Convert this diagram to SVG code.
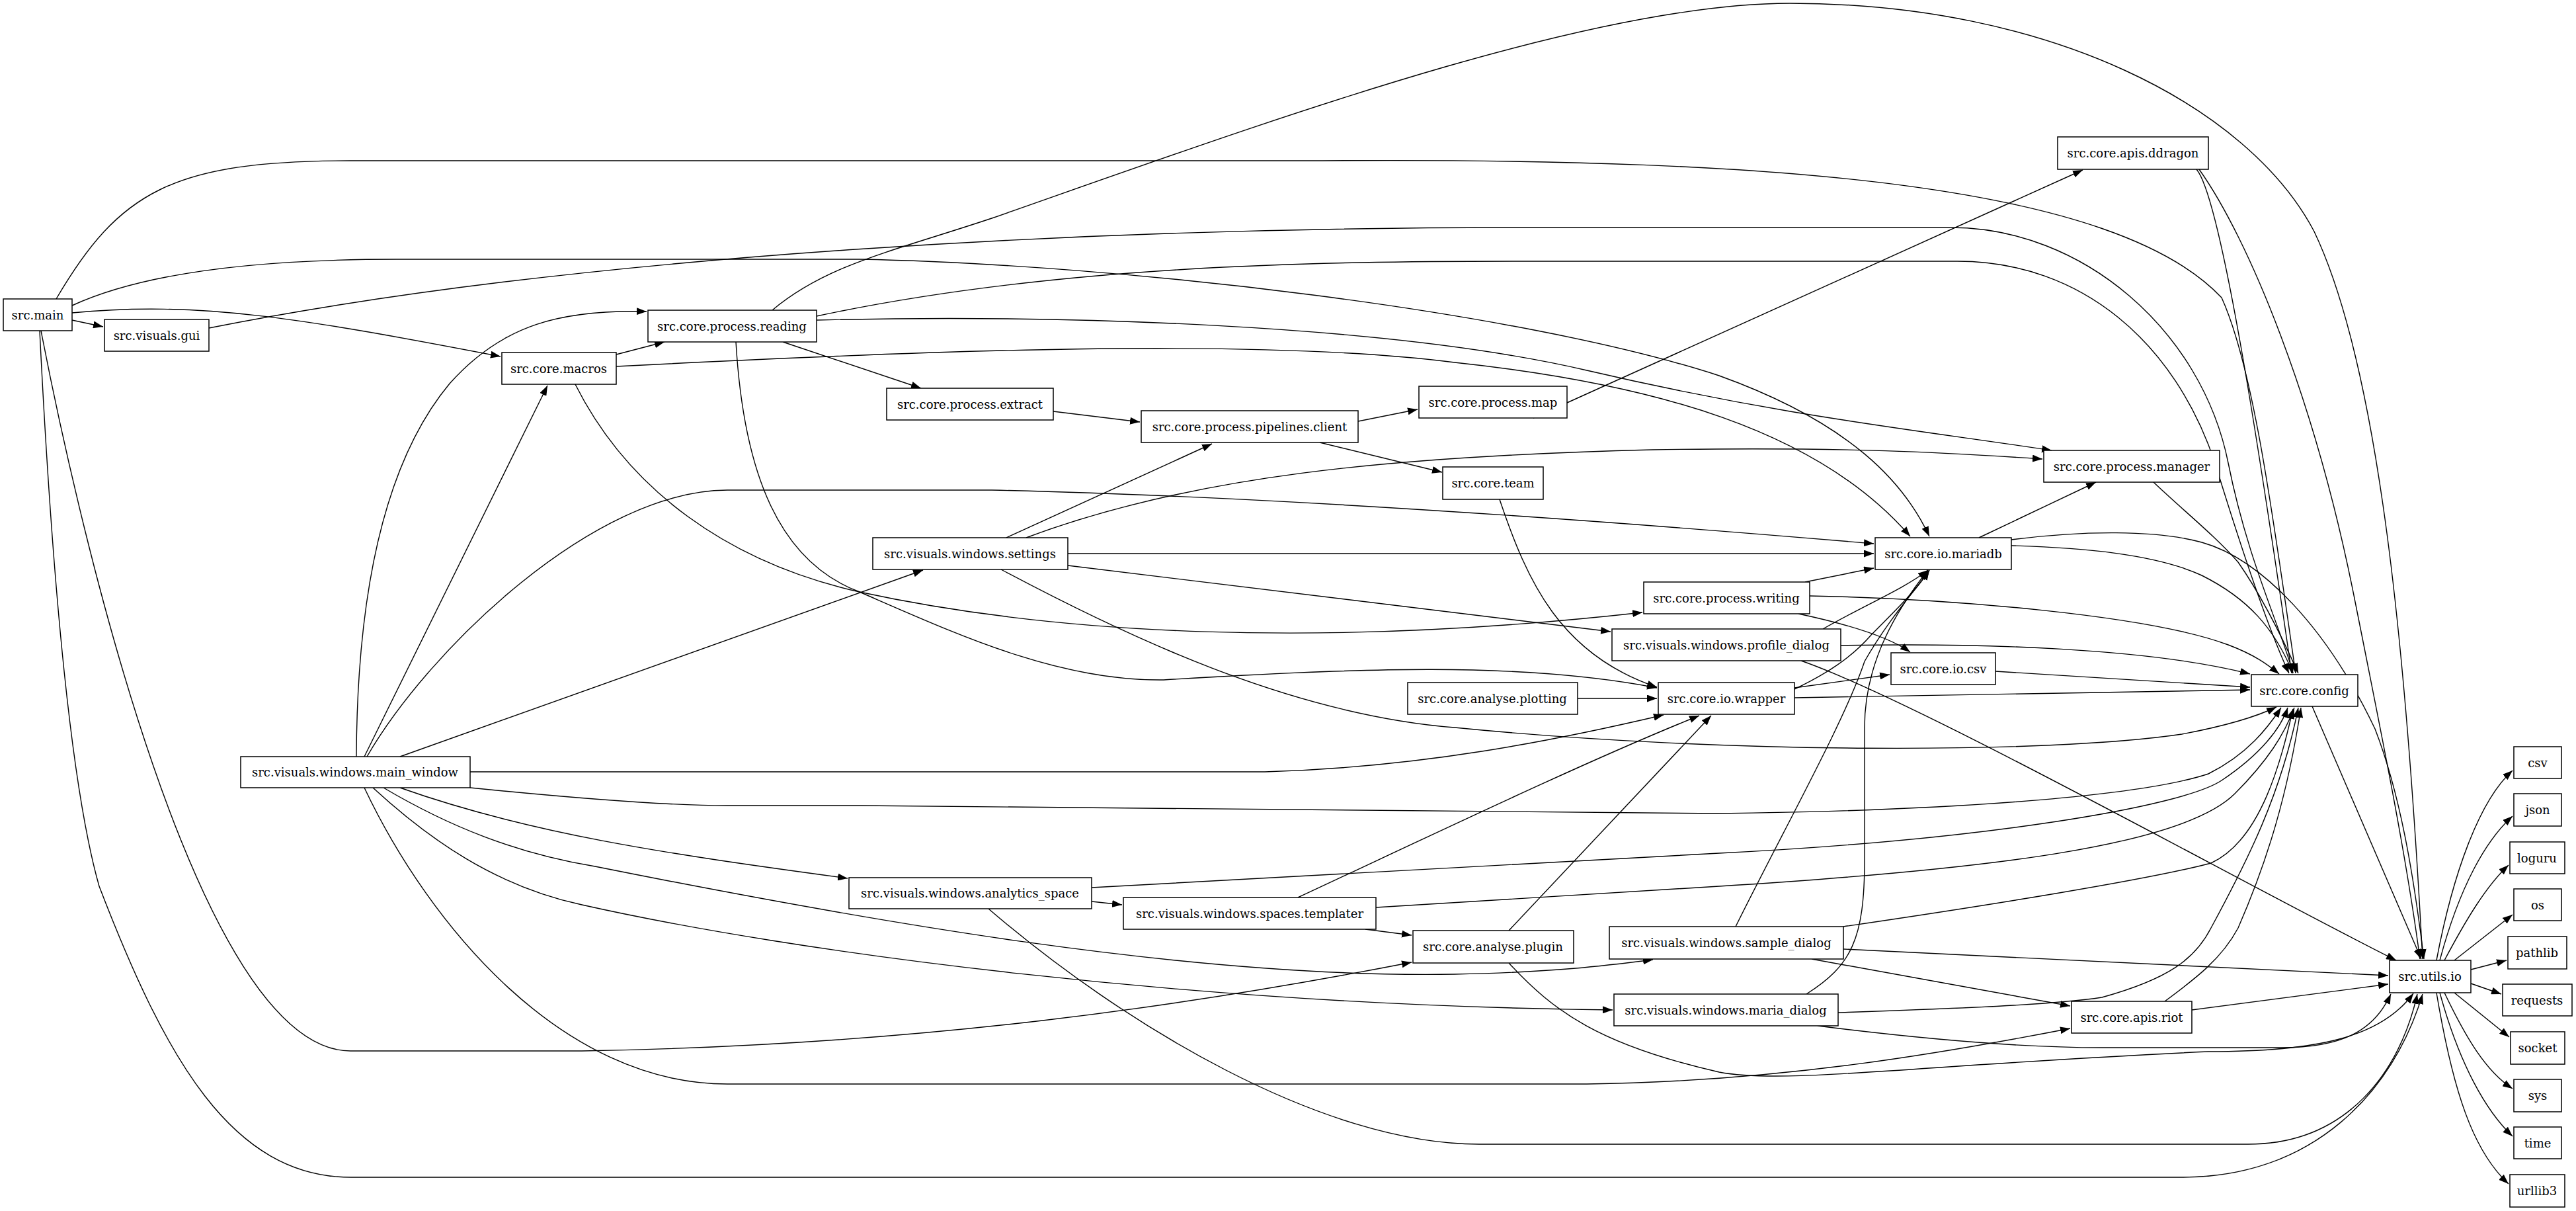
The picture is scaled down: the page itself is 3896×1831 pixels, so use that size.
<svg xmlns="http://www.w3.org/2000/svg" width="3896" height="1831" viewBox="0 0 3896 1831">
<style>
.n rect{fill:#fff;stroke:#000;stroke-width:1.5}
.n text{font-family:"DejaVu Serif",serif;font-size:18px;text-anchor:middle;dominant-baseline:central;fill:#000}
#edges path{fill:none;stroke:#000;stroke-width:1.4;marker-end:url(#a)}
</style>
<defs><marker id="a" markerUnits="userSpaceOnUse" markerWidth="15" markerHeight="11" refX="15" refY="5.5" orient="auto"><path d="M0,0 L15,5.5 L0,11 z" fill="#000"/></marker></defs>
<rect width="3896" height="1831" fill="#fff"/>
<g id="edges">
<path d="M109,484 L156,494"/>
<path d="M109,473 C300,455 450,480 757,539"/>
<path d="M85,452 C180,290 260,243 530,243 L2000,243 C2700,238 3200,280 3360,450 C3410,560 3440,800 3472,1018"/>
<path d="M316,496 C900,380 1700,344 2300,344 L2950,344 C3150,344 3330,500 3370,700 C3400,850 3450,950 3468,1018"/>
<path d="M1235,478 C1600,400 2000,395 2300,395 L2960,395 C3150,395 3290,520 3350,700 C3390,830 3430,950 3462,1018"/>
<path d="M109,462 C200,420 350,392 600,392 L1300,392 C1700,400 2300,470 2600,568 C2800,640 2880,730 2918,811"/>
<path d="M1168,469 C1250,400 1350,380 1500,330 C1900,190 2400,5 2707,5 C3100,5 3400,160 3500,350 C3600,560 3640,1000 3664,1450"/>
<path d="M3322,256 C3360,300 3420,700 3466,1018"/>
<path d="M3326,256 C3400,360 3500,600 3560,900 C3610,1150 3640,1300 3660,1450"/>
<path d="M932,536 L1005,517"/>
<path d="M932,554 C1400,530 1900,510 2200,548 C2500,580 2750,650 2889,811"/>
<path d="M870,581 C950,740 1100,850 1300,895 C1600,960 2000,980 2484,926"/>
<path d="M1184,517 L1393,587"/>
<path d="M1235,484 C1600,475 2100,490 2400,560 C2700,630 2900,650 3103,681"/>
<path d="M1113,517 C1125,720 1180,850 1300,895 C1450,960 1600,1030 1760,1028 C2050,1010 2300,1000 2506,1040"/>
<path d="M1593,622 L1724,638"/>
<path d="M2054,637 L2144,619"/>
<path d="M1996,669 L2181,714"/>
<path d="M2319,632 L3150,257"/>
<path d="M2268,755 C2310,880 2360,990 2506,1039"/>
<path d="M2386,1056 L2506,1056"/>
<path d="M1522,813 L1833,671"/>
<path d="M1552,813 C1800,720 2100,690 2500,680 C2800,675 2950,685 3089,694"/>
<path d="M1615,837 L2834,837"/>
<path d="M1615,855 L2436,955"/>
<path d="M1514,861 C1700,960 1950,1080 2200,1100 C2600,1140 3100,1140 3300,1110 C3380,1095 3420,1080 3443,1069"/>
<path d="M539,1144 C540,900 580,700 680,580 C760,490 850,468 978,471"/>
<path d="M551,1144 L828,583"/>
<path d="M555,1144 C650,980 900,741 1100,741 L1500,741 C1900,750 2400,785 2834,822"/>
<path d="M605,1144 L1396,862"/>
<path d="M711,1167 L1913,1167 C2150,1160 2350,1120 2516,1081"/>
<path d="M711,1191 C850,1205 1000,1218 1100,1218 L1300,1218 C1800,1220 2300,1230 2600,1230 C3000,1225 3250,1200 3340,1170 C3400,1140 3430,1100 3450,1070"/>
<path d="M605,1191 C800,1260 1000,1290 1282,1328"/>
<path d="M580,1191 C680,1250 780,1290 900,1310 C1300,1390 1800,1480 2200,1473 C2350,1470 2430,1460 2500,1451"/>
<path d="M564,1191 C650,1270 750,1340 880,1368 C1200,1440 1800,1520 2439,1527"/>
<path d="M551,1191 C650,1400 850,1639 1100,1639 L2400,1639 C2700,1635 2950,1590 3131,1555"/>
<path d="M62,500 C120,800 300,1589 530,1589 L880,1589 C1400,1580 1800,1520 2135,1455"/>
<path d="M60,500 C80,900 110,1200 150,1340 C250,1600 350,1780 531,1780 L3300,1780 C3500,1780 3620,1650 3664,1503"/>
<path d="M1495,1374 C1700,1550 2000,1730 2237,1730 L3400,1730 C3550,1730 3630,1620 3656,1503"/>
<path d="M2282,1456 C2350,1530 2420,1580 2600,1621 C2700,1640 2900,1610 3340,1590 C3500,1590 3600,1570 3650,1502"/>
<path d="M1651,1363 L1697,1368"/>
<path d="M1651,1342 L2600,1290 C3000,1270 3300,1220 3360,1180 C3420,1140 3450,1100 3460,1070"/>
<path d="M1963,1357 C2150,1270 2400,1150 2570,1082"/>
<path d="M2065,1405 L2135,1414"/>
<path d="M2081,1372 L2600,1340 C3000,1315 3300,1280 3380,1200 C3430,1150 3455,1110 3470,1070"/>
<path d="M2282,1407 L2588,1082"/>
<path d="M2730,880 L2834,859"/>
<path d="M2737,901 C2950,905 3250,930 3370,975 C3410,990 3430,1005 3447,1019"/>
<path d="M2720,928 C2800,945 2860,965 2889,986"/>
<path d="M2757,951 C2820,915 2880,890 2916,862"/>
<path d="M2784,976 C3000,972 3250,980 3403,1019"/>
<path d="M2724,999 C2900,1060 3400,1340 3624,1452"/>
<path d="M2714,1042 C2760,1020 2800,995 2830,960 C2870,920 2900,890 2918,862"/>
<path d="M2714,1040 L2858,1020"/>
<path d="M2714,1055 L3403,1043"/>
<path d="M3018,1015 L3403,1039"/>
<path d="M2625,1401 C2700,1250 2790,1090 2820,1000 C2860,930 2900,890 2918,862"/>
<path d="M2732,1503 C2800,1460 2820,1420 2820,1300 L2820,1100 C2820,1000 2870,920 2916,862"/>
<path d="M2788,1401 C3000,1370 3250,1330 3344,1305 C3420,1270 3450,1150 3468,1072"/>
<path d="M2788,1435 L3612,1475"/>
<path d="M2740,1450 L3131,1521"/>
<path d="M2780,1531 C2950,1525 3100,1520 3179,1508 C3280,1480 3320,1450 3344,1403 C3400,1300 3450,1200 3476,1070"/>
<path d="M2749,1551 C2900,1570 3050,1584 3179,1584 L3450,1584 C3540,1584 3590,1560 3616,1503"/>
<path d="M3274,1514 C3320,1480 3360,1450 3385,1403 C3430,1300 3460,1200 3480,1070"/>
<path d="M3315,1527 L3612,1488"/>
<path d="M3497,1068 L3662,1450"/>
<path d="M2993,813 L3170,729"/>
<path d="M3042,825 C3150,828 3261,838 3330,870 C3400,905 3440,950 3468,1018"/>
<path d="M3042,816 C3150,802 3261,801 3330,820 C3420,845 3520,950 3592,1102 C3630,1200 3650,1320 3666,1450"/>
<path d="M3257,729 C3300,770 3350,810 3385,850 C3420,900 3450,960 3476,1018"/>
<path d="M3685,1452 C3710,1320 3750,1210 3800,1165"/>
<path d="M3690,1452 C3720,1340 3760,1270 3800,1234"/>
<path d="M3697,1452 C3730,1390 3760,1340 3794,1308"/>
<path d="M3712,1452 L3800,1383"/>
<path d="M3737,1466 L3791,1452"/>
<path d="M3737,1487 L3783,1503"/>
<path d="M3712,1501 L3795,1568"/>
<path d="M3697,1501 C3730,1570 3760,1620 3800,1646"/>
<path d="M3690,1501 C3720,1610 3760,1680 3800,1718"/>
<path d="M3685,1501 C3710,1650 3740,1740 3794,1790"/>
</g>
<g id="main" class="n"><rect x="5" y="452" width="104" height="48"/><text x="57" y="476">src.main</text></g>
<g id="gui" class="n"><rect x="158" y="483" width="158" height="48"/><text x="237" y="507">src.visuals.gui</text></g>
<g id="macros" class="n"><rect x="759" y="533" width="173" height="48"/><text x="845" y="557">src.core.macros</text></g>
<g id="reading" class="n"><rect x="980" y="469" width="255" height="48"/><text x="1107" y="493">src.core.process.reading</text></g>
<g id="extract" class="n"><rect x="1341" y="587" width="252" height="48"/><text x="1467" y="611">src.core.process.extract</text></g>
<g id="pipelines" class="n"><rect x="1726" y="621" width="328" height="48"/><text x="1890" y="645">src.core.process.pipelines.client</text></g>
<g id="map" class="n"><rect x="2146" y="584" width="224" height="48"/><text x="2258" y="608">src.core.process.map</text></g>
<g id="ddragon" class="n"><rect x="3112" y="207" width="228" height="49"/><text x="3226" y="231">src.core.apis.ddragon</text></g>
<g id="team" class="n"><rect x="2182" y="706" width="152" height="49"/><text x="2258" y="730">src.core.team</text></g>
<g id="settings" class="n"><rect x="1320" y="813" width="295" height="48"/><text x="1467" y="837">src.visuals.windows.settings</text></g>
<g id="manager" class="n"><rect x="3091" y="681" width="266" height="48"/><text x="3224" y="705">src.core.process.manager</text></g>
<g id="mariadb" class="n"><rect x="2836" y="813" width="206" height="48"/><text x="2939" y="837">src.core.io.mariadb</text></g>
<g id="writing" class="n"><rect x="2486" y="880" width="251" height="48"/><text x="2611" y="904">src.core.process.writing</text></g>
<g id="profile_dialog" class="n"><rect x="2438" y="951" width="346" height="48"/><text x="2611" y="975">src.visuals.windows.profile_dialog</text></g>
<g id="io_csv" class="n"><rect x="2860" y="987" width="158" height="48"/><text x="2939" y="1011">src.core.io.csv</text></g>
<g id="plotting" class="n"><rect x="2129" y="1032" width="257" height="48"/><text x="2257" y="1056">src.core.analyse.plotting</text></g>
<g id="wrapper" class="n"><rect x="2508" y="1032" width="206" height="48"/><text x="2611" y="1056">src.core.io.wrapper</text></g>
<g id="config" class="n"><rect x="3405" y="1020" width="161" height="48"/><text x="3485" y="1044">src.core.config</text></g>
<g id="main_window" class="n"><rect x="364" y="1144" width="347" height="47"/><text x="537" y="1167">src.visuals.windows.main_window</text></g>
<g id="analytics_space" class="n"><rect x="1284" y="1327" width="367" height="47"/><text x="1467" y="1350">src.visuals.windows.analytics_space</text></g>
<g id="templater" class="n"><rect x="1699" y="1357" width="382" height="48"/><text x="1890" y="1381">src.visuals.windows.spaces.templater</text></g>
<g id="plugin" class="n"><rect x="2137" y="1407" width="243" height="49"/><text x="2258" y="1431">src.core.analyse.plugin</text></g>
<g id="sample_dialog" class="n"><rect x="2434" y="1401" width="354" height="49"/><text x="2611" y="1425">src.visuals.windows.sample_dialog</text></g>
<g id="maria_dialog" class="n"><rect x="2441" y="1503" width="339" height="48"/><text x="2610" y="1527">src.visuals.windows.maria_dialog</text></g>
<g id="riot" class="n"><rect x="3133" y="1514" width="182" height="48"/><text x="3224" y="1538">src.core.apis.riot</text></g>
<g id="utils_io" class="n"><rect x="3614" y="1452" width="123" height="49"/><text x="3675" y="1476">src.utils.io</text></g>
<g id="csv" class="n"><rect x="3802" y="1129" width="72" height="48"/><text x="3838" y="1153">csv</text></g>
<g id="json" class="n"><rect x="3802" y="1200" width="72" height="49"/><text x="3838" y="1224">json</text></g>
<g id="loguru" class="n"><rect x="3796" y="1273" width="83" height="48"/><text x="3837" y="1297">loguru</text></g>
<g id="os" class="n"><rect x="3802" y="1344" width="72" height="48"/><text x="3838" y="1368">os</text></g>
<g id="pathlib" class="n"><rect x="3793" y="1416" width="89" height="49"/><text x="3837" y="1440">pathlib</text></g>
<g id="requests" class="n"><rect x="3785" y="1488" width="105" height="48"/><text x="3837" y="1512">requests</text></g>
<g id="socket" class="n"><rect x="3797" y="1560" width="82" height="49"/><text x="3838" y="1584">socket</text></g>
<g id="sys" class="n"><rect x="3802" y="1632" width="72" height="49"/><text x="3838" y="1656">sys</text></g>
<g id="time" class="n"><rect x="3802" y="1704" width="72" height="48"/><text x="3838" y="1728">time</text></g>
<g id="urllib3" class="n"><rect x="3796" y="1776" width="83" height="49"/><text x="3837" y="1800">urllib3</text></g>
</svg>
